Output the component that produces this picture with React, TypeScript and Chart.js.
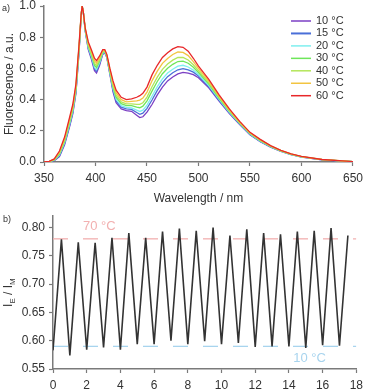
import React, { useEffect, useRef } from "react";
import { Chart, registerables } from "chart.js";
Chart.register(...registerables);

const FONT = '"Liberation Sans", Arial, sans-serif';

// ---- Panel a) spectra ----
const wavelengths = [350,355,360,365,370,375,378,381,384,386,387,388,390,393,396,399,401,404,407,409,411,414,417,420,425,430,435,440,443,446,450,455,460,465,470,475,480,485,490,495,500,510,520,530,540,550,560,570,580,590,600,620,650];

const fluo10 = [0,0.001,0.008,0.035,0.11,0.23,0.31,0.44,0.70,0.93,1.00,0.97,0.84,0.72,0.66,0.585,0.57,0.62,0.69,0.70,0.67,0.56,0.45,0.38,0.34,0.33,0.325,0.30,0.285,0.29,0.32,0.37,0.43,0.48,0.52,0.545,0.565,0.575,0.57,0.56,0.54,0.475,0.39,0.31,0.24,0.175,0.13,0.095,0.068,0.047,0.032,0.014,0.002];
const fluo15 = [0,0.001,0.010,0.040,0.118,0.239,0.319,0.449,0.708,0.93,1.00,0.97,0.843,0.728,0.669,0.597,0.582,0.629,0.695,0.703,0.673,0.566,0.461,0.392,0.351,0.341,0.337,0.317,0.306,0.313,0.344,0.399,0.459,0.509,0.547,0.572,0.591,0.599,0.591,0.576,0.551,0.483,0.396,0.315,0.243,0.177,0.132,0.097,0.069,0.048,0.033,0.014,0.002];
const fluo20 = [0,0.002,0.011,0.045,0.124,0.247,0.327,0.457,0.714,0.933,1.00,0.97,0.846,0.734,0.677,0.607,0.592,0.637,0.698,0.706,0.676,0.571,0.47,0.402,0.361,0.35,0.347,0.332,0.324,0.332,0.365,0.423,0.483,0.533,0.57,0.595,0.614,0.62,0.609,0.589,0.561,0.49,0.401,0.318,0.246,0.179,0.134,0.098,0.07,0.048,0.033,0.015,0.002];
const fluo30 = [0,0.002,0.013,0.051,0.133,0.257,0.337,0.467,0.723,0.935,1.00,0.97,0.849,0.743,0.687,0.621,0.606,0.647,0.704,0.709,0.679,0.578,0.482,0.416,0.374,0.362,0.361,0.352,0.348,0.358,0.392,0.456,0.516,0.566,0.601,0.626,0.644,0.647,0.633,0.607,0.574,0.50,0.408,0.324,0.249,0.182,0.137,0.10,0.071,0.049,0.034,0.015,0.003];
const fluo40 = [0,0.003,0.015,0.056,0.14,0.266,0.346,0.476,0.73,0.936,1.00,0.97,0.852,0.75,0.696,0.633,0.618,0.656,0.708,0.712,0.682,0.584,0.492,0.428,0.385,0.372,0.373,0.369,0.369,0.38,0.416,0.484,0.544,0.594,0.628,0.653,0.67,0.671,0.654,0.623,0.585,0.508,0.414,0.328,0.252,0.184,0.139,0.101,0.072,0.05,0.034,0.015,0.003];
const fluo50 = [0,0.003,0.018,0.063,0.15,0.278,0.358,0.488,0.74,0.938,1.00,0.97,0.856,0.76,0.708,0.649,0.634,0.668,0.714,0.716,0.686,0.592,0.506,0.444,0.40,0.386,0.389,0.392,0.397,0.41,0.448,0.522,0.582,0.632,0.664,0.689,0.705,0.703,0.682,0.644,0.60,0.519,0.422,0.334,0.256,0.187,0.142,0.103,0.074,0.051,0.035,0.016,0.003];
const fluo60 = [0,0.004,0.02,0.07,0.16,0.29,0.37,0.50,0.75,0.94,1.00,0.97,0.86,0.77,0.72,0.665,0.65,0.68,0.72,0.72,0.69,0.60,0.52,0.46,0.415,0.40,0.405,0.415,0.425,0.44,0.48,0.56,0.62,0.67,0.70,0.725,0.74,0.735,0.71,0.665,0.615,0.53,0.43,0.34,0.26,0.19,0.145,0.105,0.075,0.052,0.036,0.016,0.003];

const spectraLabels = ["10 °C", "15 °C", "20 °C", "30 °C", "40 °C", "50 °C", "60 °C"];
const spectraValues = [fluo10, fluo15, fluo20, fluo30, fluo40, fluo50, fluo60];
const spectraColors = ["#7B3FC4", "#4A6FD8", "#7FEFEF", "#6EE65A", "#B4E65A", "#F2C441", "#E8282A"];

// ---- Panel b) cycling ----
const cycleX = [0,0.5,1,1.5,2,2.5,3,3.5,4,4.5,5,5.5,6,6.5,7,7.5,8,8.5,9,9.5,10,10.5,11,11.5,12,12.5,13,13.5,14,14.5,15,15.5,16,16.5,17,17.5];
const ratioIEIM = [0.583,0.779,0.574,0.774,0.584,0.773,0.588,0.782,0.584,0.790,0.594,0.782,0.594,0.793,0.600,0.798,0.594,0.794,0.599,0.800,0.594,0.786,0.596,0.797,0.589,0.790,0.590,0.788,0.590,0.793,0.587,0.794,0.592,0.799,0.591,0.786];
const refX = [0, 18];
const refHigh = [0.78, 0.78];
const refLow = [0.59, 0.59];
const refHighLabel = "70 °C";
const refLowLabel = "10 °C";
const ratioTicks = [0.55, 0.60, 0.65, 0.70, 0.75, 0.80];

const axisColor = "#7a7a7a";
const textColor = "#333333";

function axisCommon() {
  return {
    grid: { display: true, drawOnChartArea: false, drawTicks: true, tickLength: 4, tickColor: axisColor, tickWidth: 1.2 },
    border: { display: true, color: axisColor, width: 1.5 },
  };
}

const spectraPlugin = {
  id: "spectraExtras",
  afterDraw(chart: any) {
    const ctx = chart.ctx;
    ctx.save();
    ctx.font = `11px ${FONT}`;
    ctx.textBaseline = "middle";
    ctx.textAlign = "left";
    chart.data.datasets.forEach((ds: any, i: number) => {
      const y = 21 + i * 12.45;
      ctx.strokeStyle = ds.borderColor;
      ctx.lineWidth = i === 1 ? 2 : 1.5;
      ctx.beginPath();
      ctx.moveTo(291, y);
      ctx.lineTo(311, y);
      ctx.stroke();
      ctx.fillStyle = textColor;
      ctx.fillText(ds.label, 316, y);
    });
    ctx.font = `9px ${FONT}`;
    ctx.fillStyle = textColor;
    ctx.fillText("a)", 2, 9);
    ctx.restore();
  },
};

const cyclePlugin = {
  id: "cycleExtras",
  afterDraw(chart: any) {
    const ctx = chart.ctx;
    const xs = chart.scales.x;
    const ys = chart.scales.y;
    ctx.save();
    ctx.textBaseline = "middle";
    ctx.textAlign = "left";
    ctx.font = `13px ${FONT}`;
    ctx.fillStyle = "#F2B0B0";
    ctx.fillText(refHighLabel, xs.getPixelForValue(1.78), ys.getPixelForValue(0.802));
    ctx.fillStyle = "#A8D4EE";
    ctx.fillText(refLowLabel, xs.getPixelForValue(14.26), ys.getPixelForValue(0.569));
    ctx.fillStyle = textColor;
    ctx.font = `9px ${FONT}`;
    ctx.fillText("b)", 3, 15);
    // y-axis title with subscripts
    const cx = 9;
    const cy = (chart.chartArea.top + chart.chartArea.bottom) / 2;
    const big = `12px ${FONT}`;
    const small = `8px ${FONT}`;
    const parts: [string, boolean][] = [["I", false], ["E", true], [" / I", false], ["M", true]];
    let total = 0;
    parts.forEach(([t, s]) => { ctx.font = s ? small : big; total += ctx.measureText(t).width; });
    ctx.translate(cx, cy);
    ctx.rotate(-Math.PI / 2);
    let px = -total / 2;
    parts.forEach(([t, s]) => {
      ctx.font = s ? small : big;
      ctx.fillText(t, px, s ? 4 : 0);
      px += ctx.measureText(t).width;
    });
    ctx.restore();
  },
};

export default function App() {
  const topRef = useRef<HTMLCanvasElement>(null);
  const botRef = useRef<HTMLCanvasElement>(null);

  useEffect(() => {
    const top = new Chart(topRef.current as HTMLCanvasElement, {
      type: "line",
      data: {
        datasets: spectraValues.map((vals, i) => ({
          label: spectraLabels[i],
          data: wavelengths.map((w, j) => ({ x: w, y: vals[j] })),
          borderColor: spectraColors[i],
          borderWidth: 1.3,
          pointRadius: 0,
          tension: 0,
          fill: false,
          order: spectraValues.length - i,
        })),
      },
      options: {
        responsive: false,
        animation: false,
        events: [],
        layout: { padding: { left: 0, right: 11, top: 0, bottom: 0 } },
        plugins: { legend: { display: false }, tooltip: { enabled: false } },
        scales: {
          x: {
            type: "linear",
            min: 350,
            max: 650,
            ...axisCommon(),
            ticks: { stepSize: 50, padding: 5, color: textColor, font: { family: FONT, size: 12 }, maxRotation: 0 },
            title: { display: true, text: "Wavelength / nm", color: textColor, font: { family: FONT, size: 12 }, padding: 0 },
            afterFit: (s: any) => { s.height = 44; },
          },
          y: {
            type: "linear",
            min: 0,
            max: 1.0,
            ...axisCommon(),
            ticks: { stepSize: 0.2, padding: 4, color: textColor, font: { family: FONT, size: 12 }, callback: (v: any) => Number(v).toFixed(1) },
            title: { display: true, text: "Fluorescence / a.u.", color: textColor, font: { family: FONT, size: 12 }, padding: 2 },
            afterFit: (s: any) => { s.width = 44; s.paddingTop = 6; s.paddingBottom = 0; },
          },
        },
      } as any,
      plugins: [spectraPlugin],
    });

    const bot = new Chart(botRef.current as HTMLCanvasElement, {
      type: "line",
      data: {
        datasets: [
          {
            label: "IE/IM",
            data: cycleX.map((x, i) => ({ x, y: ratioIEIM[i] })),
            borderColor: "#333333",
            borderWidth: 1.6,
            pointRadius: 0,
            tension: 0,
            order: 0,
          },
          {
            label: refHighLabel,
            data: refX.map((x, i) => ({ x, y: refHigh[i] })),
            borderColor: "#F2B0B0",
            borderWidth: 1.3,
            borderDash: [15, 15],
            pointRadius: 0,
            order: 1,
          },
          {
            label: refLowLabel,
            data: refX.map((x, i) => ({ x, y: refLow[i] })),
            borderColor: "#A8D4EE",
            borderWidth: 1.3,
            borderDash: [15, 15],
            pointRadius: 0,
            order: 2,
          },
        ],
      },
      options: {
        responsive: false,
        animation: false,
        events: [],
        layout: { padding: { left: 0, right: 11, top: 7, bottom: 0 } },
        plugins: { legend: { display: false }, tooltip: { enabled: false } },
        scales: {
          x: {
            type: "linear",
            min: 0,
            max: 18,
            ...axisCommon(),
            ticks: { stepSize: 2, padding: 5, color: textColor, font: { family: FONT, size: 12 }, maxRotation: 0 },
            afterFit: (s: any) => { s.height = 22; },
          },
          y: {
            type: "linear",
            min: 0.55,
            max: 0.82,
            ...axisCommon(),
            ticks: { padding: 4, color: textColor, font: { family: FONT, size: 12 }, callback: (v: any) => Number(v).toFixed(2) },
            afterBuildTicks: (s: any) => { s.ticks = ratioTicks.map((v) => ({ value: v })); },
            afterFit: (s: any) => { s.width = 53; },
          },
        },
      } as any,
      plugins: [cyclePlugin],
    });

    return () => {
      top.destroy();
      bot.destroy();
    };
  }, []);

  return (
    <div style={{ position: "fixed", left: 0, top: 0, width: 368, height: 391, background: "#fff" }}>
      <canvas ref={topRef} width={368} height={206} style={{ position: "absolute", left: 0, top: 0 }} />
      <canvas ref={botRef} width={368} height={186} style={{ position: "absolute", left: 0, top: 205 }} />
    </div>
  );
}
